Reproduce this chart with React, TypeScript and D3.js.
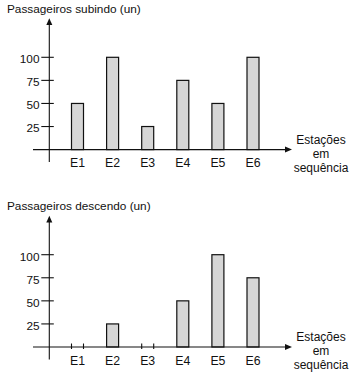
import React, { useRef, useEffect } from "react";
import * as d3 from "d3";

const stations = ["E1", "E2", "E3", "E4", "E5", "E6"];
const boarding = [50, 100, 25, 75, 50, 100];
const alighting = [0, 25, 0, 50, 100, 75];
const yTicks = [25, 50, 75, 100];
const panelTitles = ["Passageiros subindo (un)", "Passageiros descendo (un)"];

const FONT = "'Liberation Sans Narrow', 'Arial Narrow', 'Liberation Sans', Arial, sans-serif";

export default function App() {
  const svgRef = useRef<SVGSVGElement>(null);

  useEffect(() => {
    const width = 351;
    const height = 376;
    const svg = d3.select(svgRef.current)
      .attr("width", width)
      .attr("height", height)
      .style("font-family", FONT);
    svg.selectAll("*").remove();

    const x = d3.scalePoint<string>().domain(stations).range([77.5, 253]);
    const barW = 12;
    const axisX = 49.3;

    const drawPanel = (values: number[], title: string, offset: number) => {
      const g = svg.append("g").attr("transform", `translate(0,${offset})`);
      const y = d3.scaleLinear().domain([0, 100]).range([149.6, 57.3]);
      const base = y(0);

      g.append("text")
        .attr("x", 7).attr("y", 12.5)
        .attr("font-size", 11.8)
        .attr("fill", "#111")
        .text(title);

      // bars (zero values drawn as two edge ticks)
      values.forEach((v, i) => {
        const cx = x(stations[i])!;
        if (v > 0) {
          g.append("rect")
            .attr("x", cx - barW / 2)
            .attr("y", y(v))
            .attr("width", barW)
            .attr("height", base - y(v))
            .attr("fill", "#d6d6d6")
            .attr("stroke", "#111")
            .attr("stroke-width", 1.2);
        } else {
          [cx - barW / 2, cx + barW / 2].forEach(px => {
            g.append("line")
              .attr("x1", px).attr("x2", px)
              .attr("y1", base - 3.5).attr("y2", base + 2)
              .attr("stroke", "#111").attr("stroke-width", 1.1);
          });
        }
      });

      // x axis
      g.append("line")
        .attr("x1", 33).attr("x2", 287)
        .attr("y1", base).attr("y2", base)
        .attr("stroke", "#111").attr("stroke-width", 1.1);
      g.append("path")
        .attr("d", `M292,${base}L285,${base - 3}L285,${base + 3}Z`)
        .attr("fill", "#111");

      // y axis
      g.append("line")
        .attr("x1", axisX).attr("x2", axisX)
        .attr("y1", 24).attr("y2", base + 12.5)
        .attr("stroke", "#111").attr("stroke-width", 1.1);
      g.append("path")
        .attr("d", `M${axisX},18.3L${axisX - 3},25L${axisX + 3},25Z`)
        .attr("fill", "#111");

      yTicks.forEach(t => {
        g.append("line")
          .attr("x1", axisX - 8).attr("x2", axisX + 4.5)
          .attr("y1", y(t)).attr("y2", y(t))
          .attr("stroke", "#111").attr("stroke-width", 1.1);
        g.append("text")
          .attr("x", 39.5).attr("y", y(t))
          .attr("dy", "0.5em")
          .attr("text-anchor", "end")
          .attr("font-size", 11.8)
          .attr("fill", "#111")
          .text(t);
      });

      stations.forEach(s => {
        g.append("text")
          .attr("x", x(s)!).attr("y", base + 17.7)
          .attr("text-anchor", "middle")
          .attr("font-size", 12.3)
          .attr("fill", "#111")
          .text(s);
      });

      const lbl = g.append("text")
        .attr("text-anchor", "middle")
        .attr("font-size", 12)
        .attr("fill", "#111");
      ["Estações", "em", "sequência"].forEach((w, i) => {
        lbl.append("tspan")
          .attr("x", 321).attr("y", base - 5.5 + i * 14)
          .text(w);
      });
    };

    drawPanel(boarding, panelTitles[0], 0);
    drawPanel(alighting, panelTitles[1], 197.4);
  }, []);

  return <svg ref={svgRef} style={{ position: "absolute", left: 0, top: 0, background: "#fff" }}></svg>;
}
